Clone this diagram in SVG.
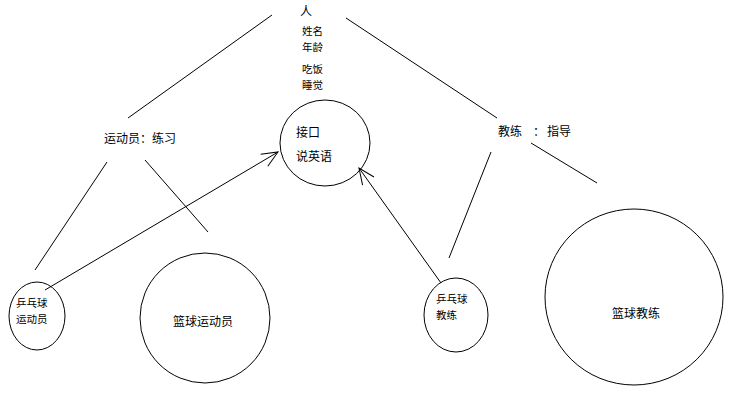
<svg xmlns="http://www.w3.org/2000/svg" width="735" height="402" viewBox="0 0 735 402">
<style>
text{font-family:"Noto Sans CJK SC","Liberation Sans",sans-serif;font-size:12px;fill:#000}
.s{font-size:10.5px}
.n{fill:none;stroke:#000;stroke-width:1}
.c{fill:none;stroke:#000;stroke-width:1}
</style>
<defs>
<marker id="a" viewBox="0 0 20 20" refX="18" refY="10" markerWidth="20" markerHeight="20" markerUnits="userSpaceOnUse" orient="auto">
<path d="M2,3 L18,10 L2,17" fill="none" stroke="#000" stroke-width="1"/>
</marker>
</defs>
<rect width="735" height="402" fill="#fff"/>
<g id="connectors">
<line class="c" x1="272" y1="15" x2="128" y2="118"/>
<line class="c" x1="346" y1="18" x2="497" y2="118"/>
<line class="c" x1="107" y1="162" x2="35" y2="270"/>
<line class="c" x1="145" y1="160" x2="208" y2="232"/>
<line class="c" x1="491" y1="152" x2="449" y2="258"/>
<line class="c" x1="531" y1="143" x2="597" y2="183"/>
<line class="c" x1="45" y1="290" x2="278" y2="152" marker-end="url(#a)"/>
<line class="c" x1="441" y1="283" x2="359" y2="168" marker-end="url(#a)"/>
</g>
<g id="person">
<text x="306" y="16" text-anchor="middle">人</text>
<text class="s"><tspan x="302" y="35">姓名</tspan><tspan x="302" y="50.5">年龄</tspan></text>
<text class="s"><tspan x="302" y="73">吃饭</tspan><tspan x="302" y="88.5">睡觉</tspan></text>
</g>
<g id="athlete">
<text x="104" y="143">运动员：练习</text>
</g>
<g id="coach">
<text y="136"><tspan x="498">教练</tspan><tspan x="533">：</tspan><tspan x="547">指导</tspan></text>
</g>
<g id="interface">
<ellipse class="n" cx="325" cy="143" rx="45" ry="43"/>
<text x="296" y="137">接口</text>
<text x="296" y="161">说英语</text>
</g>
<g id="pingpong-athlete">
<ellipse class="n" cx="37" cy="316" rx="28" ry="34"/>
<text class="s"><tspan x="16" y="307">乒乓球</tspan><tspan x="16" y="322.5">运动员</tspan></text>
</g>
<g id="basketball-athlete">
<ellipse class="n" cx="205" cy="318" rx="65" ry="65"/>
<text x="173" y="326">篮球运动员</text>
</g>
<g id="pingpong-coach">
<ellipse class="n" cx="456" cy="315" rx="32" ry="37"/>
<text class="s"><tspan x="436" y="303">乒乓球</tspan><tspan x="436" y="318.5">教练</tspan></text>
</g>
<g id="basketball-coach">
<ellipse class="n" cx="634" cy="297" rx="89" ry="88"/>
<text x="612" y="318">篮球教练</text>
</g>
</svg>
